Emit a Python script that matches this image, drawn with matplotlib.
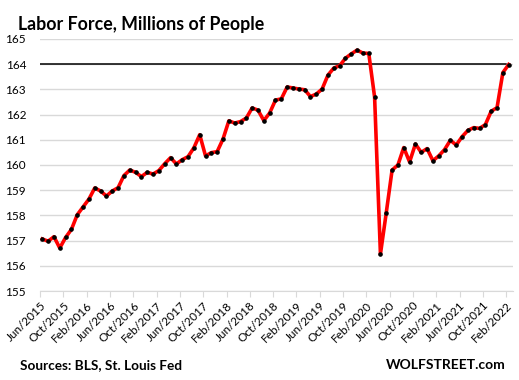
import matplotlib
matplotlib.use("Agg")
import matplotlib.pyplot as plt
import numpy as np

# labor force, millions, monthly Jun/2015 .. Feb/2022
months_start = (2015, 6)
labor_force = [
    157.07, 156.98, 157.16, 156.71, 157.13, 157.45, 158.03,
    158.34, 158.65, 159.09, 158.97, 158.77, 158.97, 159.10, 159.58, 159.80, 159.71, 159.54, 159.71,
    159.64, 159.78, 160.05, 160.29, 160.04, 160.21, 160.33, 160.68, 161.20, 160.36, 160.49, 160.53,
    161.03, 161.75, 161.66, 161.72, 161.86, 162.26, 162.17, 161.76, 162.06, 162.57, 162.62, 163.09,
    163.05, 163.01, 162.98, 162.71, 162.81, 163.01, 163.56, 163.84, 163.93, 164.23, 164.40, 164.55,
    164.43, 164.42, 162.69, 156.47, 158.11, 159.80, 160.00, 160.69, 160.12, 160.83, 160.50, 160.65,
    160.17, 160.36, 160.61, 160.98, 160.79, 161.12, 161.37, 161.48, 161.45, 161.60, 162.13, 162.27,
    163.66, 163.98,
]
ref_level = 164
month_names = ["Jan", "Feb", "Mar", "Apr", "May", "Jun",
               "Jul", "Aug", "Sep", "Oct", "Nov", "Dec"]

labels = []
y, m = months_start
for _ in labor_force:
    labels.append(f"{month_names[m - 1]}/{y}")
    m += 1
    if m > 12:
        m = 1
        y += 1

plt.rcParams['font.family'] = ['Lato', 'DejaVu Sans']

fig = plt.figure(figsize=(5.19, 3.8), dpi=100)
ax = fig.add_axes([0.077, 0.2336, 0.911, 0.6644])

x = np.arange(len(labor_force))
ax.set_xlim(-0.4, len(labor_force) - 0.3)
ax.set_ylim(155, 165)

ax.axhline(ref_level, xmin=0, xmax=0.985, color='black', lw=1.1, zorder=3)
ax.plot(x, labor_force, color='#ff0000', lw=2.6, zorder=4,
        marker='o', markersize=2.3, markerfacecolor='black', markeredgecolor='black')

ax.set_yticks(np.arange(155, 166, 1))
ax.yaxis.grid(True, color='#d9d9d9', lw=1)
ax.set_axisbelow(True)
ax.tick_params(axis='y', length=0, labelsize=8.5, pad=10)

ticks = x[::4]
ax.set_xticks(ticks - 0.4)
ax.set_xticklabels([labels[i] for i in ticks], rotation=45, ha='right',
                   rotation_mode='anchor', fontsize=8.5)
ax.tick_params(axis='x', length=4, color='#d9d9d9', pad=2)

for s in ['top', 'right', 'left']:
    ax.spines[s].set_visible(False)
ax.spines['bottom'].set_color('#d9d9d9')

fig.text(0.035, 0.935, "Labor Force, Millions of People", fontsize=12.8,
         fontweight='bold', va='center')
fig.text(0.038, 0.04, "Sources: BLS, St. Louis Fed", fontsize=9.8,
         fontweight='bold', va='center')
fig.text(0.975, 0.04, "WOLFSTREET.com", fontsize=10, fontweight='bold',
         va='center', ha='right')

fig.savefig("out.png", dpi=100)
